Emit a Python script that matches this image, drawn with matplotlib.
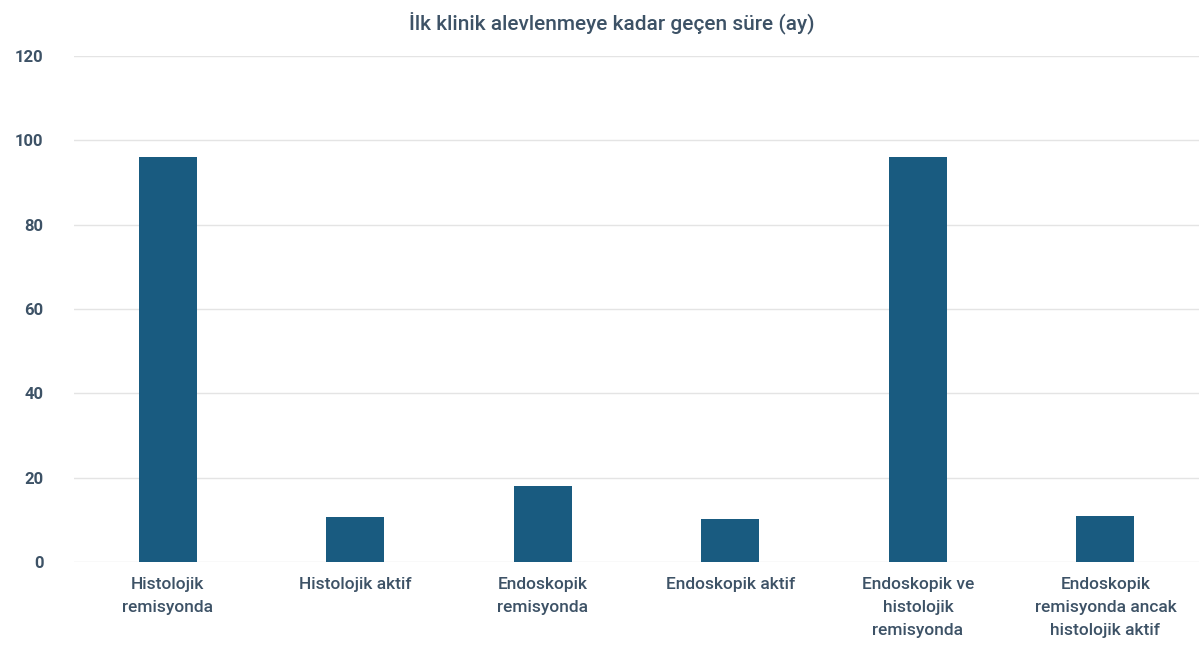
import matplotlib.pyplot as plt

# months to first clinical flare for each patient group
groups = [
    "Histolojik\nremisyonda",
    "Histolojik aktif",
    "Endoskopik\nremisyonda",
    "Endoskopik aktif",
    "Endoskopik ve\nhistolojik\nremisyonda",
    "Endoskopik\nremisyonda ancak\nhistolojik aktif",
]
months = [96, 10.7, 18, 10.2, 96, 11]

bar_color = "#195b80"
text_color = "#3d5266"

plt.rcParams["font.family"] = ["Roboto", "DejaVu Sans"]

fig = plt.figure(figsize=(12.04, 6.64), dpi=100)
ax = fig.add_axes([0.0615, 0.1536, 0.9345, 0.7621])

x = range(len(groups))
ax.bar(x, months, width=0.31, color=bar_color, zorder=3)

ax.set_xlim(-0.5, len(groups) - 0.5)
ax.set_ylim(0, 120)
ax.set_yticks(range(0, 121, 20))
ax.set_xticks(list(x))
ax.set_xticklabels(groups, fontsize=12.5, color=text_color, fontweight="medium",
                   linespacing=1.65)
ax.tick_params(axis="y", labelsize=12, labelcolor=text_color, length=0, pad=22)
ax.tick_params(axis="x", length=0, pad=11)
for lbl in ax.get_yticklabels():
    lbl.set_fontweight("bold")

ax.grid(axis="y", color="#e4e4e4", linewidth=1, zorder=0)
for side in ["top", "right", "left", "bottom"]:
    ax.spines[side].set_visible(False)

fig.text(0.508, 0.965, "İlk klinik alevlenmeye kadar geçen süre (ay)",
         ha="center", va="center", fontsize=15, color=text_color,
         fontweight="medium")

fig.savefig("out.png", dpi=100)
